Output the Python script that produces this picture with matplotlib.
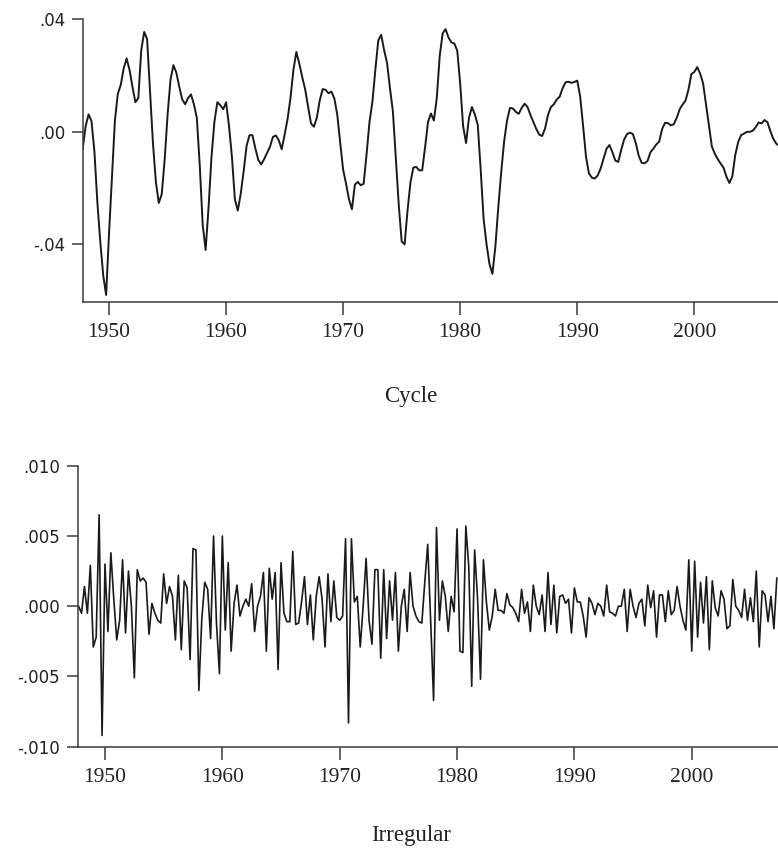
"""Cycle and irregular components, quarterly, 1947Q4-2007Q2."""
import numpy as np
import matplotlib
matplotlib.use("Agg")
import matplotlib.pyplot as plt

# First quarter of the sample and quarterly step
start_year = 1947.75

# Cycle component
cycle = [
    -0.006, 0.002, 0.0062, 0.0038, -0.007, -0.025, -0.039, -0.051, -0.058,
    -0.036, -0.016, 0.004, 0.0135, 0.0167, 0.0225, 0.0261, 0.022,
    0.016, 0.0105, 0.012, 0.029, 0.0355, 0.033, 0.0145, -0.004,
    -0.0178, -0.0253, -0.0222, -0.010, 0.006, 0.0185, 0.0237, 0.021,
    0.016, 0.0115, 0.0098, 0.012, 0.0133, 0.0098, 0.005, -0.012,
    -0.033, -0.042, -0.027, -0.009, 0.0035, 0.0105, 0.0095, 0.008,
    0.0105, 0.002, -0.009, -0.024, -0.028, -0.022, -0.014, -0.005,
    -0.0012, -0.0012, -0.0059, -0.010, -0.0116, -0.0097, -0.0075, -0.0053,
    -0.0018, -0.0013, -0.003, -0.0062, -0.001, 0.0045, 0.012, 0.022,
    0.0284, 0.0243, 0.0195, 0.0152, 0.009, 0.003, 0.0018, 0.005,
    0.0112, 0.0152, 0.0149, 0.0137, 0.0143, 0.0118, 0.006, -0.004,
    -0.0135, -0.0185, -0.024, -0.0275, -0.0188, -0.0178, -0.019, -0.0185,
    -0.008, 0.0035, 0.0107, 0.022, 0.0325, 0.0345, 0.029, 0.0245,
    0.0155, 0.0072, -0.0095, -0.026, -0.039, -0.040, -0.028, -0.018,
    -0.0127, -0.0125, -0.0137, -0.0137, -0.0055, 0.0035, 0.0065, 0.004,
    0.012, 0.027, 0.035, 0.0365, 0.0335, 0.0318, 0.0314, 0.0288,
    0.017, 0.002, -0.004, 0.005, 0.0088, 0.0062, 0.0025, -0.0135,
    -0.031, -0.040, -0.047, -0.0505, -0.041, -0.027, -0.0145, -0.0035,
    0.004, 0.0085, 0.0083, 0.0071, 0.0064, 0.0085, 0.0100, 0.0088,
    0.006, 0.0035, 0.001, -0.001, -0.0015, 0.0012, 0.006, 0.0088,
    0.0098, 0.0115, 0.0125, 0.0155, 0.0176, 0.0178, 0.0174, 0.0177,
    0.0182, 0.0125, 0.002, -0.009, -0.0148, -0.0163, -0.0166, -0.0155,
    -0.013, -0.0095, -0.006, -0.0047, -0.0072, -0.0102, -0.0107, -0.0065,
    -0.0028, -0.0008, -0.0003, -0.0008, -0.004, -0.0085, -0.011, -0.0112,
    -0.0104, -0.0073, -0.006, -0.0045, -0.0035, 0.001, 0.0032, 0.0031,
    0.0023, 0.0027, 0.005, 0.008, 0.0097, 0.0111, 0.015, 0.0205,
    0.0213, 0.0230, 0.0207, 0.0172, 0.0098, 0.0025, -0.0052, -0.0078,
    -0.0097, -0.0113, -0.0128, -0.016, -0.0182, -0.0158, -0.0082, -0.0036,
    -0.0012, -0.0006, 0.0, 0.0, 0.0004, 0.0017, 0.0033, 0.0030,
    0.0042, 0.0034, 0.0002, -0.0025, -0.0042, -0.005,
]

# Irregular component, in thousandths
irregular_1948_1963 = [
    0.0, -0.5, 1.4, -0.5, 2.9, -2.9, -2.2, 6.5, -9.2, 3.0, -1.8, 3.8,
    0.5, -2.4, -1.0, 3.3, -1.9, 2.5, 0.0, -5.1, 2.6, 1.8, 2.0, 1.7,
    -2.0, 0.2, -0.5, -1.0, -1.2, 2.3, 0.2, 1.4, 0.7, -2.4, 2.2, -3.1,
    1.8, 1.3, -3.8, 4.1, 4.0, -6.0, -0.9, 1.7, 1.2, -2.3, 5.0, -1.2,
    -4.8, 5.0, -1.7, 3.1, -3.2, 0.2, 1.5, -0.7, 0.0, 0.5, 0.0, 1.6,
    -1.8, 0.0, 0.7, 2.4, -3.2, 2.7,
]
irregular_1964_1985 = [
    0.5, 2.4, -4.5, 3.1, -0.5, -1.1, -1.1, 3.9, -1.3, -1.2,
    0.3, 2.1, -1.3, 0.8, -2.4, 0.7, 2.1, 0.5, -2.9, 2.3,
    -1.1, 1.8, -0.8, -1.0, -0.7, 4.8, -8.3, 4.8, 0.3, 0.7,
    -2.9, 0.0, 3.4, -1.0, -2.7, 2.6, 2.6, -3.7, 2.6, -2.3,
    1.8, -1.0, 2.4, -3.2, 0.0, 1.2, -1.8, 2.4, 0.0, -0.7,
    -1.1, -1.2, 1.7, 4.4, -1.0, -6.7, 5.6, -1.0, 1.8, 0.7,
    -1.8, 0.7, -0.4, 5.5, -3.2, -3.3, 5.7, 2.8, -5.7, 4.0,
    0.5, -5.2, 3.3, 0.3, -1.7, -0.7, 1.2, -0.3, -0.3, -0.5,
    0.9, 0.1, -0.1, -0.5, -1.1,
]
irregular_1985_2007 = [
    1.2, -0.5, 0.3, -1.8, 1.5, 0.0, -0.6, 0.8, -1.8, 2.4,
    -1.3, 1.5, -1.9, 0.7, 0.8, 0.2, 0.5, -1.9, 1.3, 0.3,
    0.3, -0.7, -2.2, 0.6, 0.2, -0.6, 0.2, 0.0, -0.7, 1.5,
    -0.4, -0.5, -0.7, 0.0, 0.0, 1.2, -1.8, 1.2, 0.0, -0.8,
    0.2, 0.5, -1.4, 1.5, -0.1, 1.1, -2.2, 0.8, 0.8, -1.1,
    1.1, -0.6, -0.3, 1.4, 0.0, -1.0, -1.7, 3.3, -3.2, 3.2,
    -2.2, 1.7, -1.2, 2.1, -3.1, 1.8, -0.1, -0.7, 1.1, 0.5,
    -1.6, -1.4, 1.9, 0.0, -0.3, -0.8, 1.2, -1.0, 0.6, -1.1,
    2.5, -2.9, 1.1, 0.8, -1.1, 0.7, -1.6, 2.0,
]

# Axis tick labels
cycle_yticks = [-0.04, 0.0, 0.04]
cycle_ylabels = ["-.04", ".00", ".04"]
irr_yticks = [-0.010, -0.005, 0.0, 0.005, 0.010]
irr_ylabels = ["-.010", "-.005", ".000", ".005", ".010"]
year_ticks = [1950, 1960, 1970, 1980, 1990, 2000]

irregular = np.array(irregular_1948_1963 + irregular_1964_1985
                     + irregular_1985_2007) / 1000.0
cycle = np.array(cycle)
t_cycle = start_year + 0.25 * np.arange(len(cycle))
t_irr = start_year + 0.25 * np.arange(len(irregular))

W, H = 778, 850
fig = plt.figure(figsize=(W / 100, H / 100), dpi=100)

line_color = "#1a1a1a"
spine_color = "#3a3a3a"


def style_axes(ax, yticks, ylabels):
    for side in ["top", "right"]:
        ax.spines[side].set_visible(False)
    for side in ["left", "bottom"]:
        ax.spines[side].set_color(spine_color)
        ax.spines[side].set_linewidth(1.1)
    ax.set_yticks(yticks)
    ax.set_yticklabels(ylabels, fontfamily="DejaVu Sans", fontsize=12,
                       color="#222222")
    ax.set_xticks(year_ticks)
    ax.set_xticklabels([str(y) for y in year_ticks],
                       fontfamily="Liberation Serif", fontsize=15.5,
                       color="#222222")
    ax.tick_params(axis="y", direction="out", length=8, width=1.1,
                   color=spine_color, pad=5)
    ax.tick_params(axis="x", direction="out", length=9, width=1.1,
                   color=spine_color, pad=6)


# Top panel: cycle
ax1 = fig.add_axes([83.3 / W, 1 - 301.7 / H, (W - 83.3) / W, 282.4 / H])
ax1.plot(t_cycle, cycle, color=line_color, lw=1.4)
ax1.set_xlim(1947.8, 2007.15)
ax1.set_ylim(-0.0604, 0.04)
style_axes(ax1, cycle_yticks, cycle_ylabels)

# Bottom panel: irregular
ax2 = fig.add_axes([78 / W, 1 - 746.7 / H, (W - 78) / W, 281 / H])
ax2.plot(t_irr, irregular, color=line_color, lw=1.2)
ax2.set_xlim(1947.7, 2007.35)
ax2.set_ylim(-0.010, 0.010)
style_axes(ax2, irr_yticks, irr_ylabels)

# Panel captions
fig.text(411 / W, 1 - 396.7 / H, "Cycle", ha="center", va="center",
         fontfamily="Liberation Serif", fontsize=16.5, color="#222222")
fig.text(411 / W, 1 - 835 / H, "Irregular", ha="center", va="center",
         fontfamily="Liberation Serif", fontsize=16.5, color="#222222")

fig.savefig("out.png", dpi=100)
